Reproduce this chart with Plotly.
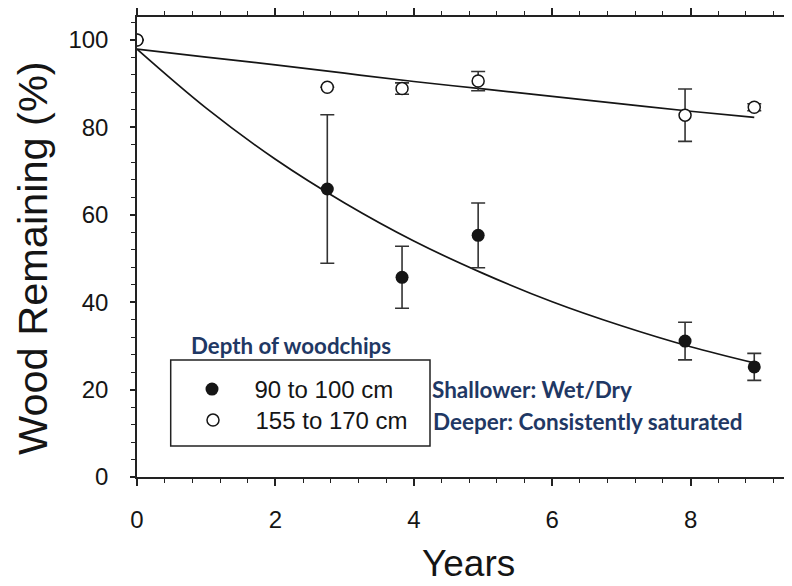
import plotly.graph_objects as go

# ---- data ----
years = [0, 2.75, 3.83, 4.93, 7.92, 8.92]
shallow_vals = [100, 65.9, 45.7, 55.3, 31.1, 25.2]      # 90 to 100 cm
shallow_err = [0, 17.0, 7.1, 7.4, 4.3, 3.1]
deep_vals = [100, 89.2, 88.9, 90.6, 82.8, 84.6]          # 155 to 170 cm
deep_err = [0, 0, 1.3, 2.2, 6.0, 0.8]

fit_x = [0, 1, 2, 3, 4, 5, 6, 7, 8, 8.92]
fit_shallow = [97.9, 84.4, 72.7, 62.7, 54.0, 46.6, 40.1, 34.6, 29.8, 26.1]
fit_deep = [97.9, 96.1, 94.3, 92.4, 90.5, 88.8, 87.1, 85.4, 83.7, 82.3]

legend_names = ["90 to 100 cm", "155 to 170 cm"]
x_ticks = [0, 2, 4, 6, 8]
y_ticks = [0, 20, 40, 60, 80, 100]

# ---- geometry ----
# the page body adds an 8px offset; the figure is sized so the screen shows 792x586
OFF = 8
W, H = 792 - OFF, 586 - OFF
L, R, T, B = 137 - OFF, 0, 17 - OFF, 109
PW, PH = W - L - R, H - T - B
PX_PER_YEAR = 69.2
PX_PER_PCT = 4.37


def px(xs):  # screen x -> paper
    return (xs - OFF - L) / PW


def py(ys):  # screen y -> paper
    return (H - B - (ys - OFF)) / PH


NAVY = "#1f3864"
INK = "#151515"
FONT = "Liberation Sans, Arial, sans-serif"
CAL = "Lato, sans-serif"

fig = go.Figure()

fig.add_trace(go.Scatter(x=fit_x, y=fit_shallow, mode="lines", line=dict(color=INK, width=1.7, shape="spline"),
                         showlegend=False, hoverinfo="skip"))
fig.add_trace(go.Scatter(x=fit_x, y=fit_deep, mode="lines", line=dict(color=INK, width=1.7, shape="spline"),
                         showlegend=False, hoverinfo="skip"))

fig.add_trace(go.Scatter(
    x=years, y=shallow_vals, mode="markers", name=legend_names[0], legend="legend",
    marker=dict(symbol="circle", size=13, color=INK, line=dict(width=0)),
    error_y=dict(type="data", array=shallow_err, visible=True, color="#333333", thickness=1.6, width=7),
))
fig.add_trace(go.Scatter(
    x=years, y=deep_vals, mode="markers", name=legend_names[1], legend="legend2",
    marker=dict(symbol="circle", size=12, color="white", line=dict(width=1.5, color=INK)),
    error_y=dict(type="data", array=deep_err, visible=True, color="#333333", thickness=1.6, width=7),
))

# legend frame
fig.add_shape(type="rect", xref="paper", yref="paper",
              x0=px(170.7), x1=px(430), y0=py(446), y1=py(360),
              line=dict(color="#222222", width=1.5), fillcolor="rgba(0,0,0,0)", layer="above")

annotations = [
    dict(text="Wood Remaining (%)", x=px(32), y=py(258), textangle=-90,
         font=dict(family=FONT, size=41.5, color=INK)),
    dict(text="Years", x=px(468), y=py(563),
         font=dict(family=FONT, size=37, color=INK)),
    dict(text="<b>Depth of woodchips</b>", x=px(291), y=py(345),
         font=dict(family=CAL, size=22.3, color=NAVY)),
    dict(text="<b>Shallower: Wet/Dry</b>", x=px(429.5), y=py(389), xanchor="left",
         font=dict(family=CAL, size=22.5, color=NAVY)),
    dict(text="<b>Deeper: Consistently saturated</b>", x=px(431), y=py(421), xanchor="left",
         font=dict(family=CAL, size=22.5, color=NAVY)),
]
for a in annotations:
    a.setdefault("xanchor", "center")
    a.setdefault("yanchor", "middle")
    a.update(xref="paper", yref="paper", showarrow=False)

leg_common = dict(xanchor="left", yanchor="top", bgcolor="rgba(0,0,0,0)", borderwidth=0,
                  font=dict(family=FONT, size=24, color=INK), itemwidth=75, tracegroupgap=0)

fig.update_layout(
    width=W, height=H,
    margin=dict(l=L, r=R, t=T, b=B, pad=0),
    paper_bgcolor="white", plot_bgcolor="white",
    annotations=annotations,
    showlegend=True,
    legend=dict(x=px(169.5), y=py(367), **leg_common),
    legend2=dict(x=px(170.5), y=py(398), **leg_common),
    xaxis=dict(range=[0, PW / PX_PER_YEAR], tickvals=x_ticks, ticks="outside", ticklen=7, tickwidth=1.5,
               tickcolor="#222", showline=True, linecolor="#222", linewidth=1.5, mirror="ticks",
               showgrid=False, zeroline=False, tickfont=dict(family=FONT, size=24, color=INK),
               ticklabelstandoff=13,
               minor=dict(dtick=0.4, ticks="outside", ticklen=4, tickwidth=1.2, tickcolor="#222", showgrid=False)),
    yaxis=dict(range=[0, PH / PX_PER_PCT], tickvals=y_ticks, ticks="outside", ticklen=5, tickwidth=1.5,
               tickcolor="#222", showline=True, linecolor="#222", linewidth=1.5,
               showgrid=False, zeroline=False, tickfont=dict(family=FONT, size=24, color=INK),
               ticklabelstandoff=17,
               minor=dict(dtick=4, ticks="outside", ticklen=4, tickwidth=1.2, tickcolor="#222", showgrid=False)),
)

fig.write_html("out.html")
